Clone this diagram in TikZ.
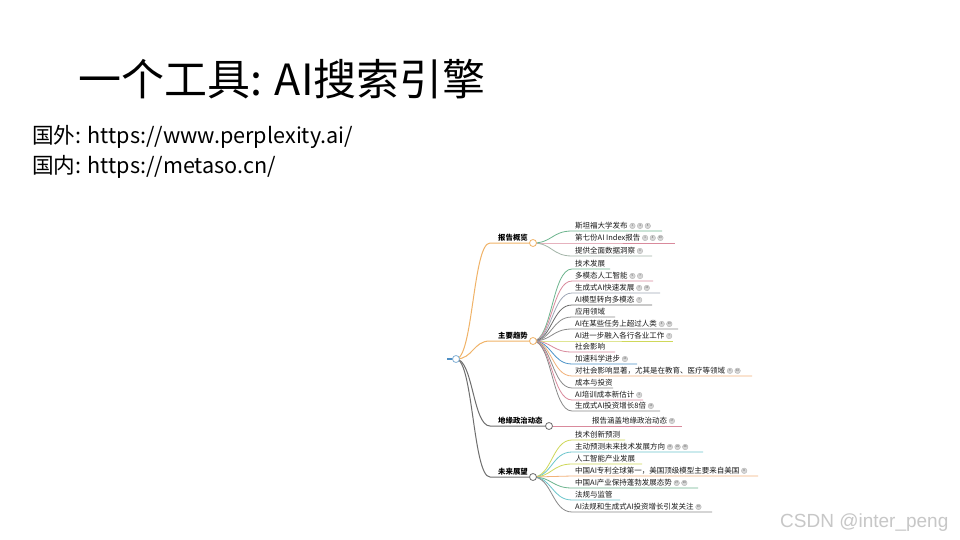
\documentclass[tikz,border=0pt]{standalone}
\usepackage{fontspec}
\setmainfont{Noto Sans CJK SC}
\newfontfamily\wmfont{Liberation Sans}
\usetikzlibrary{calc}
\definecolor{brorange}{HTML}{F0B368}
\definecolor{brgray}{HTML}{6E6E6E}
\definecolor{rootblue}{HTML}{4F8FC4}
\definecolor{lgreen}{HTML}{6DB58E}
\definecolor{lpink}{HTML}{D98A9C}
\definecolor{lgraygreen}{HTML}{A3B5A8}
\definecolor{lgrayblue}{HTML}{A0A8B8}
\definecolor{ldark}{HTML}{6A6A6A}
\definecolor{lgray}{HTML}{8A8A8A}
\definecolor{lyellow}{HTML}{CFD85A}
\definecolor{lblue}{HTML}{4C93C8}
\definecolor{lorange}{HTML}{F2B27A}
\definecolor{lteal}{HTML}{6CC6CC}
\tikzset{
  leaftext/.style={anchor=south west,inner sep=0pt,font=\fontsize{7.5}{8}\selectfont,text=black!90},
  leafline/.style={line width=0.8pt},
  brline/.style={line width=1pt},
  brtext/.style={anchor=south west,inner sep=0pt,font=\fontsize{7.4}{8}\selectfont\bfseries},
  knot/.style={circle,fill=white,line width=0.8pt,inner sep=0pt,minimum size=7pt},
}
\newcommand\bd[1]{\hspace{1.8pt}\tikz[baseline=-2.6pt]\node[anchor=center,circle,fill=black!16,draw=black!35,line width=0.25pt,inner sep=0pt,minimum size=5.6pt,font=\fontsize{2.8}{2.8}\selectfont,text=black!65]{#1};}
\newcommand\leaf[6]{%
  \coordinate (#1m) at (552,#3);
  \coordinate (#1s) at (572,#3);
  \coordinate (#1e) at (#4,#3);
  \node[leaftext] (#1) at (575,{#3-1.6}) {#6};
  \draw[leafline,draw=#5] (#2) .. controls (#1m |- #2) and (#1m) .. (#1s) -- (#1e);
}
\begin{document}
\begin{tikzpicture}[x=1pt,y=-1pt]
\useasboundingbox[fill=white] (0,0) rectangle (960,540);
% title and links
\node[anchor=west,inner sep=0pt,font=\fontsize{43}{43}\selectfont] (title) at (78,79) {一个工具: AI搜索引擎};
\node[anchor=west,inner sep=0pt,font=\fontsize{21.6}{22}\selectfont] (l1) at (32,137) {国外: https://www.perplexity.ai/};
\node[anchor=west,inner sep=0pt,font=\fontsize{21.6}{22}\selectfont] (l2) at (32,167) {国内: https://metaso.cn/};
\node[anchor=west,inner sep=0pt,font=\wmfont\fontsize{19}{19}\selectfont,text=black!22] (wm) at (780,523) {CSDN @inter\_peng};
% root and branch points
\coordinate (root) at (456,359);
\coordinate (stub) at (447,359);
\coordinate (bA) at (533,243);
\coordinate (bB) at (533,341);
\coordinate (bC) at (549,426);
\coordinate (bD) at (533,477);
\coordinate (mA) at (473,243);
\coordinate (mB) at (473,341);
\coordinate (mC) at (473,426);
\coordinate (mD) at (473,477);
\coordinate (sA) at (490,243);
\coordinate (sB) at (490,341);
\coordinate (sC) at (490,426);
\coordinate (sD) at (490,477);
% leaves: report overview
\leaf{a1}{bA}{231}{662}{lgreen}{斯坦福大学发布\bd{1}\bd{4}\bd{5}}
\leaf{a2}{bA}{243}{675}{lpink}{第七份AI Index报告\bd{1}\bd{4}\bd{10}}
\leaf{a3}{bA}{256}{652}{lgraygreen}{提供全面数据洞察\bd{4}}
% leaves: main trends
\leaf{b1}{bB}{269}{610}{lgreen}{技术发展}
\leaf{b2}{bB}{281}{653}{lpink}{多模态人工智能\bd{5}\bd{7}}
\leaf{b3}{bB}{293}{660}{lgrayblue}{生成式AI快速发展\bd{7}\bd{10}}
\leaf{b4}{bB}{305}{652}{ldark}{AI模型转向多模态\bd{7}}
\leaf{b5}{bB}{317}{615}{lgray}{应用领域}
\leaf{b6}{bB}{329}{678}{lgray}{AI在某些任务上超过人类\bd{4}\bd{10}}
\leaf{b7}{bB}{341}{673}{lyellow}{AI进一步融入各行各业工作\bd{7}}
\leaf{b8}{bB}{352}{615}{lpink}{社会影响}
\leaf{b9}{bB}{364}{637}{lblue}{加速科学进步\bd{10}}
\leaf{b10}{bB}{376}{752}{lorange}{对社会影响显著，尤其是在教育、医疗等领域\bd{9}\bd{10}}
\leaf{b11}{bB}{388}{613}{lgray}{成本与投资}
\leaf{b12}{bB}{400}{643}{lpink}{AI培训成本新估计\bd{4}}
\leaf{b13}{bB}{411}{660}{lgray}{生成式AI投资增长8倍\bd{10}}
% leaves: future outlook
\leaf{d1}{bD}{440}{625}{lyellow}{技术创新预测}
\leaf{d2}{bD}{452}{703}{lteal}{主动预测未来技术发展方向\bd{20}\bd{26}\bd{28}}
\leaf{d3}{bD}{464}{642}{lyellow}{人工智能产业发展}
\leaf{d4}{bD}{476}{758}{lorange}{中国AI专利全球第一，美国顶级模型主要来自美国\bd{8}}
\leaf{d5}{bD}{488}{698}{lgreen}{中国AI产业保持蓬勃发展态势\bd{27}\bd{28}}
\leaf{d6}{bD}{500}{620}{lteal}{法规与监管}
\leaf{d7}{bD}{512}{712}{lgray}{AI法规和生成式AI投资增长引发关注\bd{18}}
% geopolitics leaf
\coordinate (c1e) at (682,426);
\node[leaftext] (c1) at (592,424.4) {报告涵盖地缘政治动态\bd{17}};
\draw[leafline,draw=lpink] (bC) -- (c1e);
% branches
\draw[brline,draw=brorange] (root) .. controls (root -| mA) and (mA) .. (sA) -- (bA);
\draw[brline,draw=brorange] (root) .. controls (root -| mB) and (mB) .. (sB) -- (bB);
\draw[brline,draw=brgray] (root) .. controls (root -| mC) and (mC) .. (sC) -- (bC);
\draw[brline,draw=brgray] (root) .. controls (root -| mD) and (mD) .. (sD) -- (bD);
\draw[line width=1.2pt,draw=rootblue] (stub) -- (root);
\node[brtext] (tA) at (498,241.5) {报告概览};
\node[brtext] (tB) at (498,339.5) {主要趋势};
\node[brtext] (tC) at (498,424.5) {地缘政治动态};
\node[brtext] (tD) at (498,475.5) {未来展望};
% knots
\node[knot,draw=rootblue!70] (rootk) at (root) {};
\node[knot,draw=brorange] (kA) at (bA) {};
\node[knot,draw=brorange] (kB) at (bB) {};
\node[knot,draw=brgray] (kC) at (bC) {};
\node[knot,draw=brgray] (kD) at (bD) {};
\end{tikzpicture}
\end{document}
